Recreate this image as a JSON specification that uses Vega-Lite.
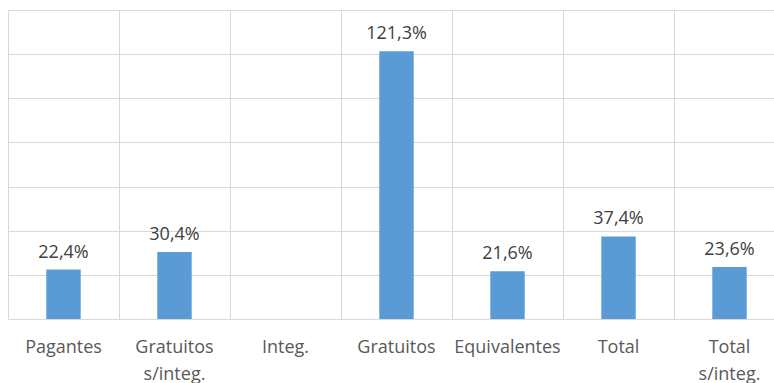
{
  "$schema": "https://vega.github.io/schema/vega-lite/v6.json",
  "width": 766,
  "height": 309,
  "autosize": {"type": "none"},
  "padding": {"left": 8, "top": 10, "right": 0, "bottom": 64},
  "background": "white",
  "config": {"view": {"stroke": null}, "font": "Open Sans"},
  "data": {"values": [
    {"cat": "Pagantes", "value": 22.4, "label": "22,4%"},
    {"cat": "Gratuitos s/integ.", "value": 30.4, "label": "30,4%"},
    {"cat": "Integ.", "value": null, "label": ""},
    {"cat": "Gratuitos", "value": 121.3, "label": "121,3%"},
    {"cat": "Equivalentes", "value": 21.6, "label": "21,6%"},
    {"cat": "Total", "value": 37.4, "label": "37,4%"},
    {"cat": "Total s/integ.", "value": 23.6, "label": "23,6%"}
  ]},
  "encoding": {
    "x": {"field": "cat", "type": "nominal", "sort": null,
      "scale": {"domain": ["Pagantes", "Gratuitos s/integ.", "Integ.", "Gratuitos", "Equivalentes", "Total", "Total s/integ."],
        "paddingInner": 0, "paddingOuter": 0, "range": [0, 777]},
      "axis": {"title": null, "labelAngle": 0, "domain": false, "ticks": false,
        "grid": true, "bandPosition": 0, "gridColor": "#D9D9D9", "gridWidth": 1,
        "labelExpr": "split(datum.value, ' ')", "labelFontSize": 18, "labelColor": "#595959",
        "labelLineHeight": 27, "labelPadding": 19, "labelFont": "Open Sans"}}
  },
  "layer": [
    {"mark": {"type": "bar", "color": "#5B9BD5", "width": {"band": 0.31}},
     "encoding": {"y": {"field": "value", "type": "quantitative",
        "scale": {"domain": [0, 140]},
        "axis": {"title": null, "labels": false, "ticks": false, "domain": false,
          "values": [0, 20, 40, 60, 80, 100, 120, 140], "gridColor": "#D9D9D9", "gridWidth": 1}}}},
    {"mark": {"type": "text", "baseline": "bottom", "dy": -8, "fontSize": 18, "color": "#404040", "font": "Open Sans"},
     "encoding": {"y": {"field": "value", "type": "quantitative"}, "text": {"field": "label"}}}
  ]
}
